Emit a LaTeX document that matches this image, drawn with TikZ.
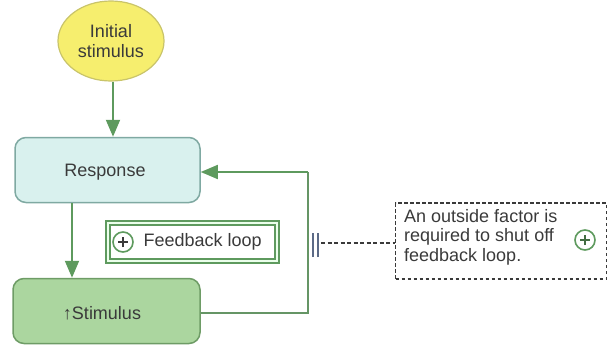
\documentclass[tikz,border=0pt]{standalone}
\usepackage{fontspec}
\setmainfont{Liberation Sans}
\usetikzlibrary{arrows.meta,shapes.geometric}
\definecolor{flowgreen}{HTML}{5E9A5E}
\definecolor{ellfill}{HTML}{F6EE6E}
\definecolor{elledge}{HTML}{C9C46A}
\definecolor{respfill}{HTML}{D9F1EE}
\definecolor{respedge}{HTML}{7FA9A2}
\definecolor{stimfill}{HTML}{ABD69F}
\definecolor{stimedge}{HTML}{6E9C66}
\definecolor{barcol}{HTML}{5C6A86}
\definecolor{textcol}{HTML}{3A3A3A}
\tikzset{
  x=1pt, y=-1pt,
  every node/.style={font=\fontsize{18}{19.5}\selectfont, text=textcol},
  flow/.style={draw=flowgreen, line width=2pt, -{Triangle[width=14pt,length=17pt]}},
  loopline/.style={draw=flowgreen!80!gray, line width=1.6pt},
  stagebox/.style={rounded corners=11pt, line width=1.5pt, minimum width=185pt, minimum height=65pt},
  plusmark/.style={circle, draw=flowgreen, fill=white, line width=1.6pt, minimum size=20pt, inner sep=0pt}
}
\begin{document}
\begin{tikzpicture}
\useasboundingbox (0,0) rectangle (608,345);

% stages
\node[ellipse, draw=elledge, fill=ellfill, line width=1.2pt, minimum width=106pt, minimum height=80pt, align=center] (init) at (111,41) {Initial\\stimulus};
\node[stagebox, draw=respedge, fill=respfill] (resp) at (107.5,170) {};
\node at (105,172) {Response};
\node[stagebox, draw=stimedge, fill=stimfill, minimum width=187pt] (stim) at (106.5,311) {};
\node (stimtext) at (102,313) {↑Stimulus};

% forward arrows
\draw[flow] (init.south -| 113,0) -- (resp.north -| 113,0);
\draw[flow] (resp.south -| 72,0) -- (stim.north -| 72,0);

% feedback loop back to the response
\coordinate (corner1) at (308,313);
\coordinate (corner2) at (308,172);
\draw[loopline] (stim.east |- 0,313) -- (corner1) -- (corner2);
\draw[flow, line width=1.6pt] (corner2) -- (resp.east |- 0,172);

% loop label
\node[draw=flowgreen, line width=2pt, double=green!8!white, double distance=1.2pt, minimum width=169pt, minimum height=38pt] (fb) at (192.5,242) {};
\node[plusmark] (fbplus) at (123,242) {};
\draw[textcol, line width=1.6pt] ([xshift=-5pt]fbplus.center) -- ([xshift=5pt]fbplus.center)
  ([yshift=-5pt]fbplus.center) -- ([yshift=5pt]fbplus.center);
\node[anchor=west] (fbtext) at (140,242) {Feedback loop};

% outside factor break
\coordinate (barA) at (313,245);
\coordinate (barB) at (318,245);
\draw[barcol, line width=1.3pt] ([yshift=-12pt]barA) -- ([yshift=12pt]barA)
  ([yshift=-12pt]barB) -- ([yshift=12pt]barB);
\node[draw=textcol, dash pattern=on 3.5pt off 2.5pt, line width=1.1pt, minimum width=211pt, minimum height=76pt] (note) at (501,241) {};
\draw[textcol, line width=1.1pt, dash pattern=on 4pt off 2.5pt] (321,243) -- (note.west |- 0,243);
\node[anchor=north west, align=left, inner sep=0pt] (notetext) at (404,209) {An outside factor is\\required to shut off\\feedback loop.};
\node[plusmark] (noteplus) at (585,240) {};
\draw[flowgreen!70!black, line width=1.4pt] ([xshift=-5pt]noteplus.center) -- ([xshift=5pt]noteplus.center)
  ([yshift=-5pt]noteplus.center) -- ([yshift=5pt]noteplus.center);
\end{tikzpicture}
\end{document}
